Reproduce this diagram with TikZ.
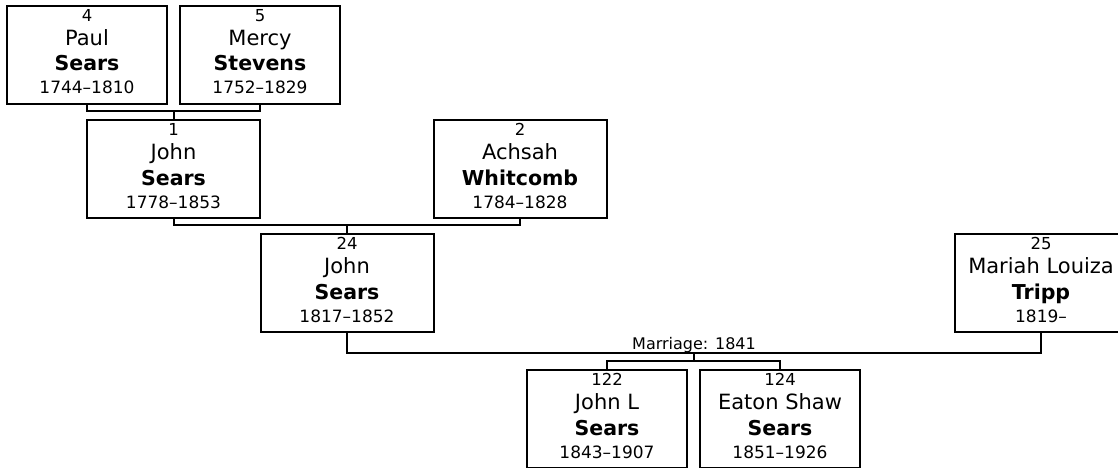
\documentclass[tikz,border=0pt]{standalone}
\usepackage{fontspec}
\setmainfont{DejaVu Sans}
\usetikzlibrary{calc}
\tikzset{
  pbox/.style={draw=black, line width=2pt, fill=white, minimum height=98pt, inner sep=0pt, anchor=north},
  conn/.style={draw=black, line width=2pt},
  numtxt/.style={anchor=base, inner sep=0pt, font=\fontsize{16.5}{18}\selectfont},
  firsttxt/.style={anchor=base, inner sep=0pt, font=\fontsize{21}{24}\selectfont},
  lasttxt/.style={anchor=base, inner sep=0pt, font=\fontsize{20.5}{24}\selectfont\bfseries},
  datetxt/.style={anchor=base, inner sep=0pt, font=\fontsize{17}{19}\selectfont},
  martxt/.style={anchor=base, inner sep=0pt, font=\fontsize{16}{18}\selectfont},
}
\newcommand\personbox[8]{%
  \node[pbox, minimum width=#4pt] (#1) at (#2,#3) {};
  \node[numtxt] (#1-n) at ([yshift=-16.7pt]#1.north) {#5};
  \node[firsttxt] (#1-f) at ([yshift=-40.5pt]#1.north) {#6};
  \node[lasttxt] (#1-l) at ([yshift=-66pt]#1.north) {#7};
  \node[datetxt] (#1-d) at ([yshift=-89pt]#1.north) {#8};
}
\begin{document}
\begin{tikzpicture}[x=1pt, y=-1pt]
\useasboundingbox (0,0) rectangle (1118,468);
\personbox{p4}{87}{5}{160}{4}{Paul}{Sears}{1744–1810}
\personbox{p5}{260}{5}{160}{5}{Mercy}{Stevens}{1752–1829}
\personbox{p1}{173.5}{119}{173}{1}{John}{Sears}{1778–1853}
\personbox{p2}{520}{119}{173}{2}{Achsah}{Whitcomb}{1784–1828}
\personbox{p24}{347}{233}{173}{24}{John}{Sears}{1817–1852}
\personbox{p25}{1041}{233}{173}{25}{Mariah Louiza}{Tripp}{1819–}
\personbox{p122}{607}{369}{160}{122}{John L}{Sears}{1843–1907}
\personbox{p124}{780}{369}{160}{124}{Eaton Shaw}{Sears}{1851–1926}
\coordinate (b45) at (0,111);
\coordinate (b12) at (0,225);
\coordinate (bm) at (0,352.5);
\coordinate (bc) at (0,361);
% parents of 1
\draw[conn] (p4.south) |- (p5.south |- b45) -- (p5.south);
\draw[conn] (p1.north) -- (p1.north |- b45);
% parents of 24
\draw[conn] (p1.south) |- (p2.south |- b12) -- (p2.south);
\draw[conn] (p24.north) -- (p24.north |- b12);
% marriage
\draw[conn] (p24.south) |- (p25.south |- bm) -- (p25.south);
\coordinate (mid) at ($(p24.south |- bm)!0.5!(p25.south |- bm)$);
\node[martxt] (mlabel) at ([yshift=3.5pt]mid) {Marriage: 1841};
% children
\draw[conn] (mid) -- (mid |- bc);
\draw[conn] (p122.north) |- (p124.north |- bc) -- (p124.north);
\end{tikzpicture}
\end{document}
